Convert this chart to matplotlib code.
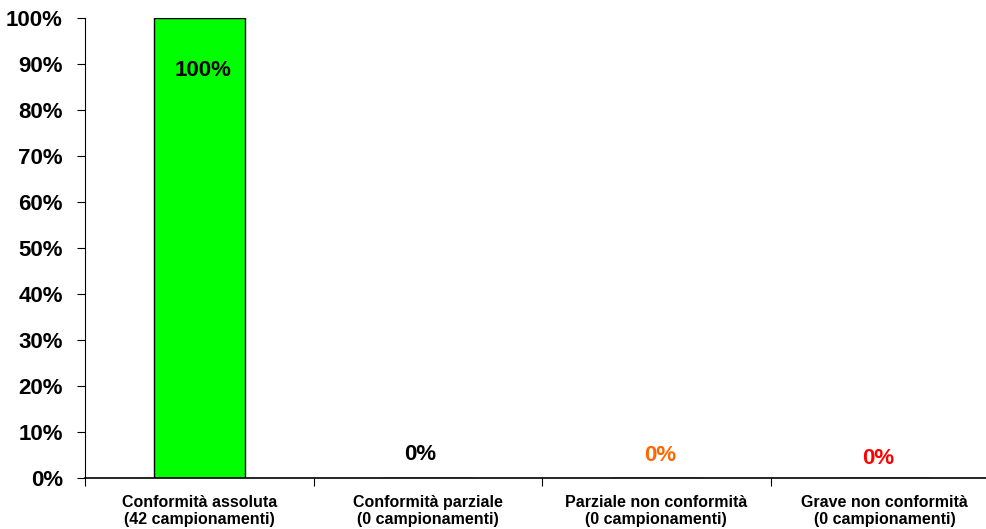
import numpy as np
import matplotlib.pyplot as plt
from matplotlib.ticker import FixedLocator, PercentFormatter

# ── data ────────────────────────────────────────────────────
categories = [
    "Conformità assoluta\n(42 campionamenti)",
    "Conformità parziale\n(0 campionamenti)",
    "Parziale non conformità\n(0 campionamenti)",
    "Grave non conformità\n(0 campionamenti)",
]
values = [100, 0, 0, 0]
value_labels = ["100%", "0%", "0%", "0%"]
label_colors = ["black", "black", "#FF6600", "#FF0000"]
label_y = [88.5, 5.0, 4.8, 4.2]
bar_color = "#00FF00"

plt.rcParams["font.family"] = ["Liberation Sans", "DejaVu Sans"]
plt.rcParams["font.weight"] = "bold"

fig = plt.figure(figsize=(9.87, 5.29), dpi=100)
ax = fig.add_axes([85 / 987, 51 / 529, 901 / 987, 460 / 529])

x = np.arange(len(categories))
ax.bar(x, values, width=0.4, color=bar_color, edgecolor="black", linewidth=1)

# labels sit a little off-centre in the original
dx = [0.015, -0.035, 0.018, -0.027]
for xi, txt, col, yy, off in zip(x, value_labels, label_colors, label_y, dx):
    ax.text(xi + off, yy, txt, ha="center", va="center", fontsize=16,
            fontweight="bold", color=col)

ax.yaxis.set_major_locator(FixedLocator(np.arange(0, 101, 10)))
ax.yaxis.set_major_formatter(PercentFormatter(decimals=0))
ax.tick_params(axis="y", labelsize=16, length=6, width=0.8, pad=10,
               direction="out")

ax.set_xticks(x)
ax.set_xticklabels(categories, fontsize=11.5, fontweight="bold")
ax.set_xticks(np.arange(-0.5, 3.0, 1), minor=True)
ax.tick_params(axis="x", which="major", length=0, pad=12)
ax.tick_params(axis="x", which="minor", length=6, width=0.8, direction="out")

ax.set_ylim(0, 100)
ax.set_xlim(-0.5, 3.443)

ax.spines["top"].set_visible(False)
ax.spines["right"].set_visible(False)
ax.spines["left"].set_linewidth(0.8)
ax.spines["bottom"].set_linewidth(1.2)

fig.savefig("out.png", dpi=100)
